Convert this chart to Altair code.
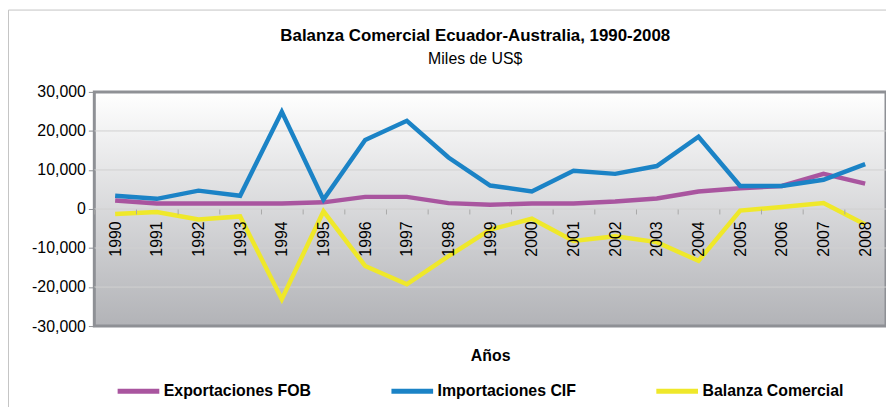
import altair as alt
import pandas as pd

years = ["1990", "1991", "1992", "1993", "1994", "1995", "1996", "1997", "1998", "1999",
         "2000", "2001", "2002", "2003", "2004", "2005", "2006", "2007", "2008"]
series = ["Exportaciones FOB", "Importaciones CIF", "Balanza Comercial"]
colors = ["#a9559f", "#1b83c6", "#efe82a"]

exportaciones = [2200, 1400, 1400, 1400, 1400, 1700, 3100, 3100, 1500, 1100,
                 1400, 1400, 1900, 2700, 4500, 5300, 5900, 9000, 6500]
importaciones = [3400, 2600, 4700, 3400, 24900, 2400, 17700, 22600, 13200, 6000,
                 4500, 9800, 9000, 11000, 18500, 5900, 5900, 7500, 11500]
balanza = [-1300, -800, -2700, -1900, -23100, -600, -14600, -19300, -12100, -5300,
           -2500, -8200, -7000, -8500, -13300, -400, 500, 1500, -4000]

y_ticks = [-30000, -20000, -10000, 0, 10000, 20000, 30000]
grid_lines = [-20000, -10000, 0, 10000, 20000]

rows = []
for name, vals in zip(series, [exportaciones, importaciones, balanza]):
    for yr, v in zip(years, vals):
        rows.append({"Año": yr, "Serie": name, "Valor": v})
df = pd.DataFrame(rows)

W, H = 798, 236
FONT = "Liberation Sans"

yscale = alt.Scale(domain=[-30000, 30000], nice=False, zero=False)
yaxis = alt.Axis(
    values=y_ticks, title=None, grid=False, domain=False,
    labelExpr="datum.value < 0 ? '-' + format(-datum.value, ',') : format(datum.value, ',')",
    labelFontSize=16, labelFont=FONT, labelColor="black", labelPadding=3,
    tickSize=6, tickColor="#8e9095", zindex=1,
)

frame = alt.Chart(alt.Data(values=[{}])).mark_rect(
    fill=None, stroke="#c4c4c4", strokeWidth=1, clip=False
).encode(
    x=alt.value(-86.5), x2=alt.value(W + 30), y=alt.value(-82.5), y2=alt.value(H + 120)
)

gradient = alt.LinearGradient(
    gradient="linear",
    stops=[alt.GradientStop(offset=0, color="#ffffff"),
           alt.GradientStop(offset=1, color="#b2b3b7")],
    x1=0, x2=0, y1=0, y2=1,
)
plotbg = alt.Chart(alt.Data(values=[{}])).mark_rect(
    fill=gradient, stroke="#8e9095", strokeWidth=3
).encode(x=alt.value(0), x2=alt.value(W), y=alt.value(0), y2=alt.value(H))

grid = alt.Chart(pd.DataFrame({"v": grid_lines})).mark_rule(
    color="#d0d0d0", strokeWidth=1
).encode(y=alt.Y("v:Q", scale=yscale, axis=yaxis))

lines = alt.Chart(df).mark_line(strokeWidth=4.5).encode(
    x=alt.X(
        "Año:N", sort=years, bandPosition=0.5,
        scale=alt.Scale(type="band", paddingInner=0, paddingOuter=0),
        axis=alt.Axis(
            title="Años", titleFontSize=16, titleFontWeight="bold", titleFont=FONT,
            titleColor="black", titleY=140, titleBaseline="top",
            labelAngle=270, labelFontSize=16, labelFont=FONT, labelColor="black",
            labelPadding=7, tickSize=5, tickBand="extent", tickColor="#a8a8a8",
            domain=False, grid=False, offset=-H / 2, zindex=1,
        ),
    ),
    y=alt.Y("Valor:Q", scale=yscale, axis=yaxis),
    color=alt.Color(
        "Serie:N", sort=series,
        scale=alt.Scale(domain=series, range=colors),
        legend=alt.Legend(
            orient="none", legendX=21, legendY=278, direction="horizontal",
            title=None, symbolType="stroke", symbolSize=1764, symbolStrokeWidth=5,
            labelFontSize=16, labelFontWeight="bold", labelFont=FONT, labelColor="black",
            columnPadding=70, labelOffset=2,
        ),
    ),
)

chart = alt.layer(frame, plotbg, grid, lines).properties(
    width=W, height=H,
    autosize="none",
    padding={"left": 87, "top": 83, "right": 0, "bottom": 80},
    background="white",
    title=alt.TitleParams(
        text="Balanza Comercial Ecuador-Australia, 1990-2008",
        subtitle="Miles de US$",
        font=FONT, fontSize=17, fontWeight="bold", color="black",
        subtitleFont=FONT, subtitleFontSize=16, subtitleColor="black",
        anchor="middle", frame="group", dx=-15, offset=-59, subtitlePadding=6,
        zindex=1,
    ),
).configure_view(stroke=None)

chart.save("out.html", embed_options={"renderer": "svg", "actions": False})
